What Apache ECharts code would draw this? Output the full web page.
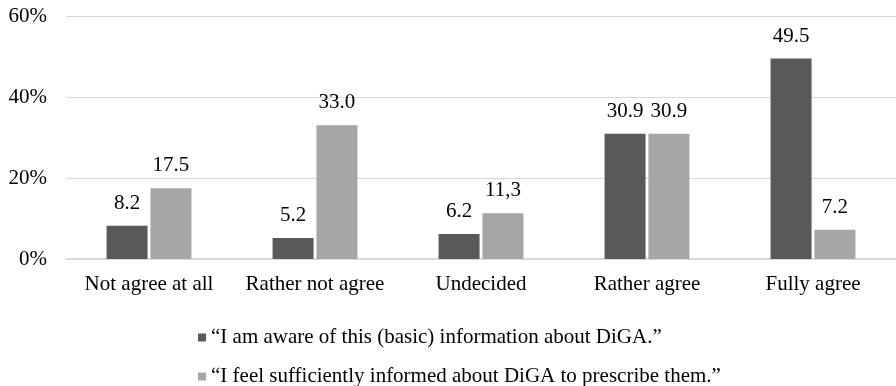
<!DOCTYPE html>
<html>
<head>
<meta charset="utf-8">
<script src="https://cdn.jsdelivr.net/npm/echarts@6/dist/echarts.min.js"></script>
<style>
  html, body { margin: 0; padding: 0; background: #fff; }
  #chart { width: 896px; height: 386px; }
</style>
</head>
<body>
<div id="chart"></div>
<script>
// Agreement categories on the x axis
const categories = ['Not agree at all', 'Rather not agree', 'Undecided', 'Rather agree', 'Fully agree'];

// Share of respondents (%) for each statement
const awareValues = [8.2, 5.2, 6.2, 30.9, 49.5];
const informedValues = [17.5, 33.0, 11.3, 30.9, 7.2];

// Value labels as printed above the bars
const awareLabels = ['8.2', '5.2', '6.2', '30.9', '49.5'];
const informedLabels = ['17.5', '33.0', '11,3', '30.9', '7.2'];

const seriesNames = [
  '\u201CI am aware of this (basic) information about DiGA.\u201D',
  '\u201CI feel sufficiently informed about DiGA to prescribe them.\u201D'
];

const yTicks = [0, 20, 40, 60];

const font = '"Liberation Serif", "Times New Roman", serif';
const fontSize = 21;
const chart = echarts.init(document.getElementById('chart'));

function labelFor(list) {
  return {
    show: true,
    position: 'top',
    distance: 12,
    fontFamily: font,
    fontSize: fontSize,
    color: '#000',
    formatter: p => list[p.dataIndex]
  };
}

// one legend row per statement, stacked under the axis
function legendRow(name, top) {
  return {
    left: 193,
    top: top,
    itemWidth: 8,
    itemHeight: 8,
    itemGap: 0,
    icon: 'rect',
    textStyle: { fontFamily: font, fontSize: fontSize, color: '#000' },
    data: [name]
  };
}

chart.setOption({
  animation: false,
  textStyle: { fontFamily: font },
  grid: { left: 66, right: -4, top: 16, bottom: 127 },
  legend: [legendRow(seriesNames[0], 322), legendRow(seriesNames[1], 361)],
  xAxis: {
    type: 'category',
    data: categories,
    axisTick: { show: false },
    axisLine: { lineStyle: { color: '#d9d9d9', width: 2 } },
    axisLabel: { fontFamily: font, fontSize: fontSize, color: '#000', margin: 15, interval: 0 }
  },
  yAxis: {
    type: 'value',
    min: 0,
    max: 60,
    interval: 20,
    axisLine: { show: false },
    axisTick: { show: false },
    splitLine: { lineStyle: { color: '#d9d9d9', width: 1 } },
    axisLabel: {
      fontFamily: font, fontSize: fontSize, color: '#000', margin: 19,
      formatter: v => (yTicks.includes(v) ? v + '%' : '')
    }
  },
  series: [
    {
      name: seriesNames[0],
      type: 'bar',
      data: awareValues,
      barWidth: 41,
      barGap: '7%',
      itemStyle: { color: '#595959' },
      label: labelFor(awareLabels)
    },
    {
      name: seriesNames[1],
      type: 'bar',
      data: informedValues,
      barWidth: 41,
      itemStyle: { color: '#a6a6a6' },
      label: labelFor(informedLabels)
    }
  ]
});
</script>
</body>
</html>
